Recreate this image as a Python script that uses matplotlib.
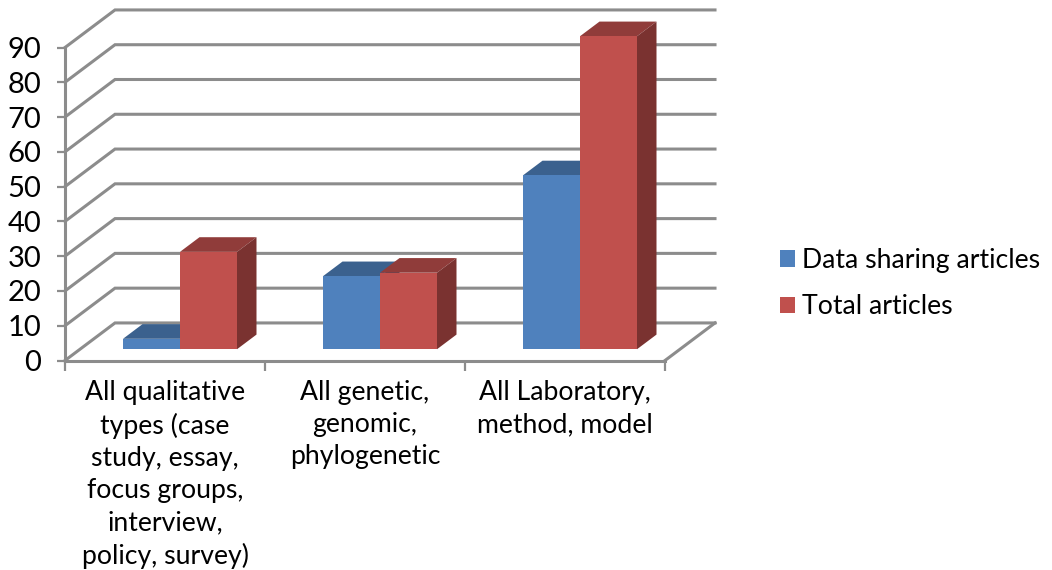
import matplotlib
matplotlib.use("Agg")
import matplotlib.pyplot as plt
from matplotlib.patches import Polygon, Patch

categories = ["All qualitative\ntypes (case\nstudy, essay,\nfocus groups,\ninterview,\npolicy, survey)",
              "All genetic,\ngenomic,\nphylogenetic",
              "All Laboratory,\nmethod, model"]
series_names = ["Data sharing articles", "Total articles"]
data_sharing = [3, 21, 50]
total_articles = [28, 22, 90]
y_ticks = [0, 10, 20, 30, 40, 50, 60, 70, 80, 90]

W, H = 1052, 570
plt.rcParams['font.family'] = ['Lato', 'DejaVu Sans']
FS = 19.2
fig = plt.figure(figsize=(W / 100, H / 100), dpi=100)
ax = fig.add_axes([65 / W, 1 - 360.5 / H, 600 / W, 313 / H])
ax.set_xlim(0, 3)
ax.set_ylim(0, 90)
ax.patch.set_visible(False)

DX, DY = 0.25, 10.8          # full depth of the 3D box, in data units
GRID = '#8c8c8c'
LW = 2.2


def proj(x, v, d):
    return (x + d * DX, v + d * DY)


# walls and floor
for v in y_ticks:
    p0, p1, p2 = proj(0, v, 0), proj(0, v, 1), proj(3, v, 1)
    ax.plot([p0[0], p1[0], p2[0]], [p0[1], p1[1], p2[1]], color=GRID, lw=LW,
            clip_on=False, zorder=1, solid_joinstyle='miter')
p0, p1 = proj(3, 0, 0), proj(3, 0, 1)
ax.plot([p0[0], p1[0]], [p0[1], p1[1]], color=GRID, lw=LW, clip_on=False, zorder=1)

# bars
BW = 0.285
D0, D1 = 0.30, 0.69
styles = [('#4F81BD', '#3B618E', '#2F4E73'), ('#C0504D', '#903C3A', '#7A3230')]
z = 3
for i in range(len(categories)):
    x0 = i + 0.5 - BW
    for j, vals in enumerate((data_sharing, total_articles)):
        v = vals[i]
        xl, xr = x0 + j * BW, x0 + (j + 1) * BW
        front, top, side = styles[j]
        pts_front = [proj(xl, 0, D0), proj(xr, 0, D0), proj(xr, v, D0), proj(xl, v, D0)]
        pts_top = [proj(xl, v, D0), proj(xr, v, D0), proj(xr, v, D1), proj(xl, v, D1)]
        pts_side = [proj(xr, 0, D0), proj(xr, 0, D1), proj(xr, v, D1), proj(xr, v, D0)]
        for pts, col in ((pts_top, top), (pts_side, side), (pts_front, front)):
            ax.add_patch(Polygon(pts, closed=True, facecolor=col, edgecolor='none',
                                 clip_on=False, zorder=z))
        z += 1

# axes
for s in ('top', 'right'):
    ax.spines[s].set_visible(False)
for s in ('left', 'bottom'):
    ax.spines[s].set_color(GRID)
    ax.spines[s].set_linewidth(LW)
    ax.spines[s].set_zorder(2)
ax.set_yticks(y_ticks)
ax.set_yticklabels([str(v) for v in y_ticks])
ax.tick_params(axis='y', length=6, width=1.6, color=GRID, labelsize=21, pad=11, labelcolor='black')
ax.set_xticks(range(4))
ax.set_xticklabels([])
ax.tick_params(axis='x', which='major', length=7, width=1.6, color=GRID)
ax.set_xticks([0.5, 1.5, 2.5], minor=True)
ax.set_xticklabels(categories, minor=True, fontsize=FS, linespacing=1.36, color='black')
ax.tick_params(axis='x', which='minor', length=0, pad=14)

# legend
handles = [Patch(facecolor=styles[0][0], edgecolor='none'),
           Patch(facecolor=styles[1][0], edgecolor='none')]
fig.legend(handles, series_names, loc='center left',
           bbox_to_anchor=(780 / W, 1 - 283.5 / H), frameon=False, fontsize=FS,
           handlelength=0.56, handleheight=0.56, handletextpad=0.28,
           labelspacing=0.8, borderpad=0, borderaxespad=0)

fig.savefig('out.png', dpi=100)
